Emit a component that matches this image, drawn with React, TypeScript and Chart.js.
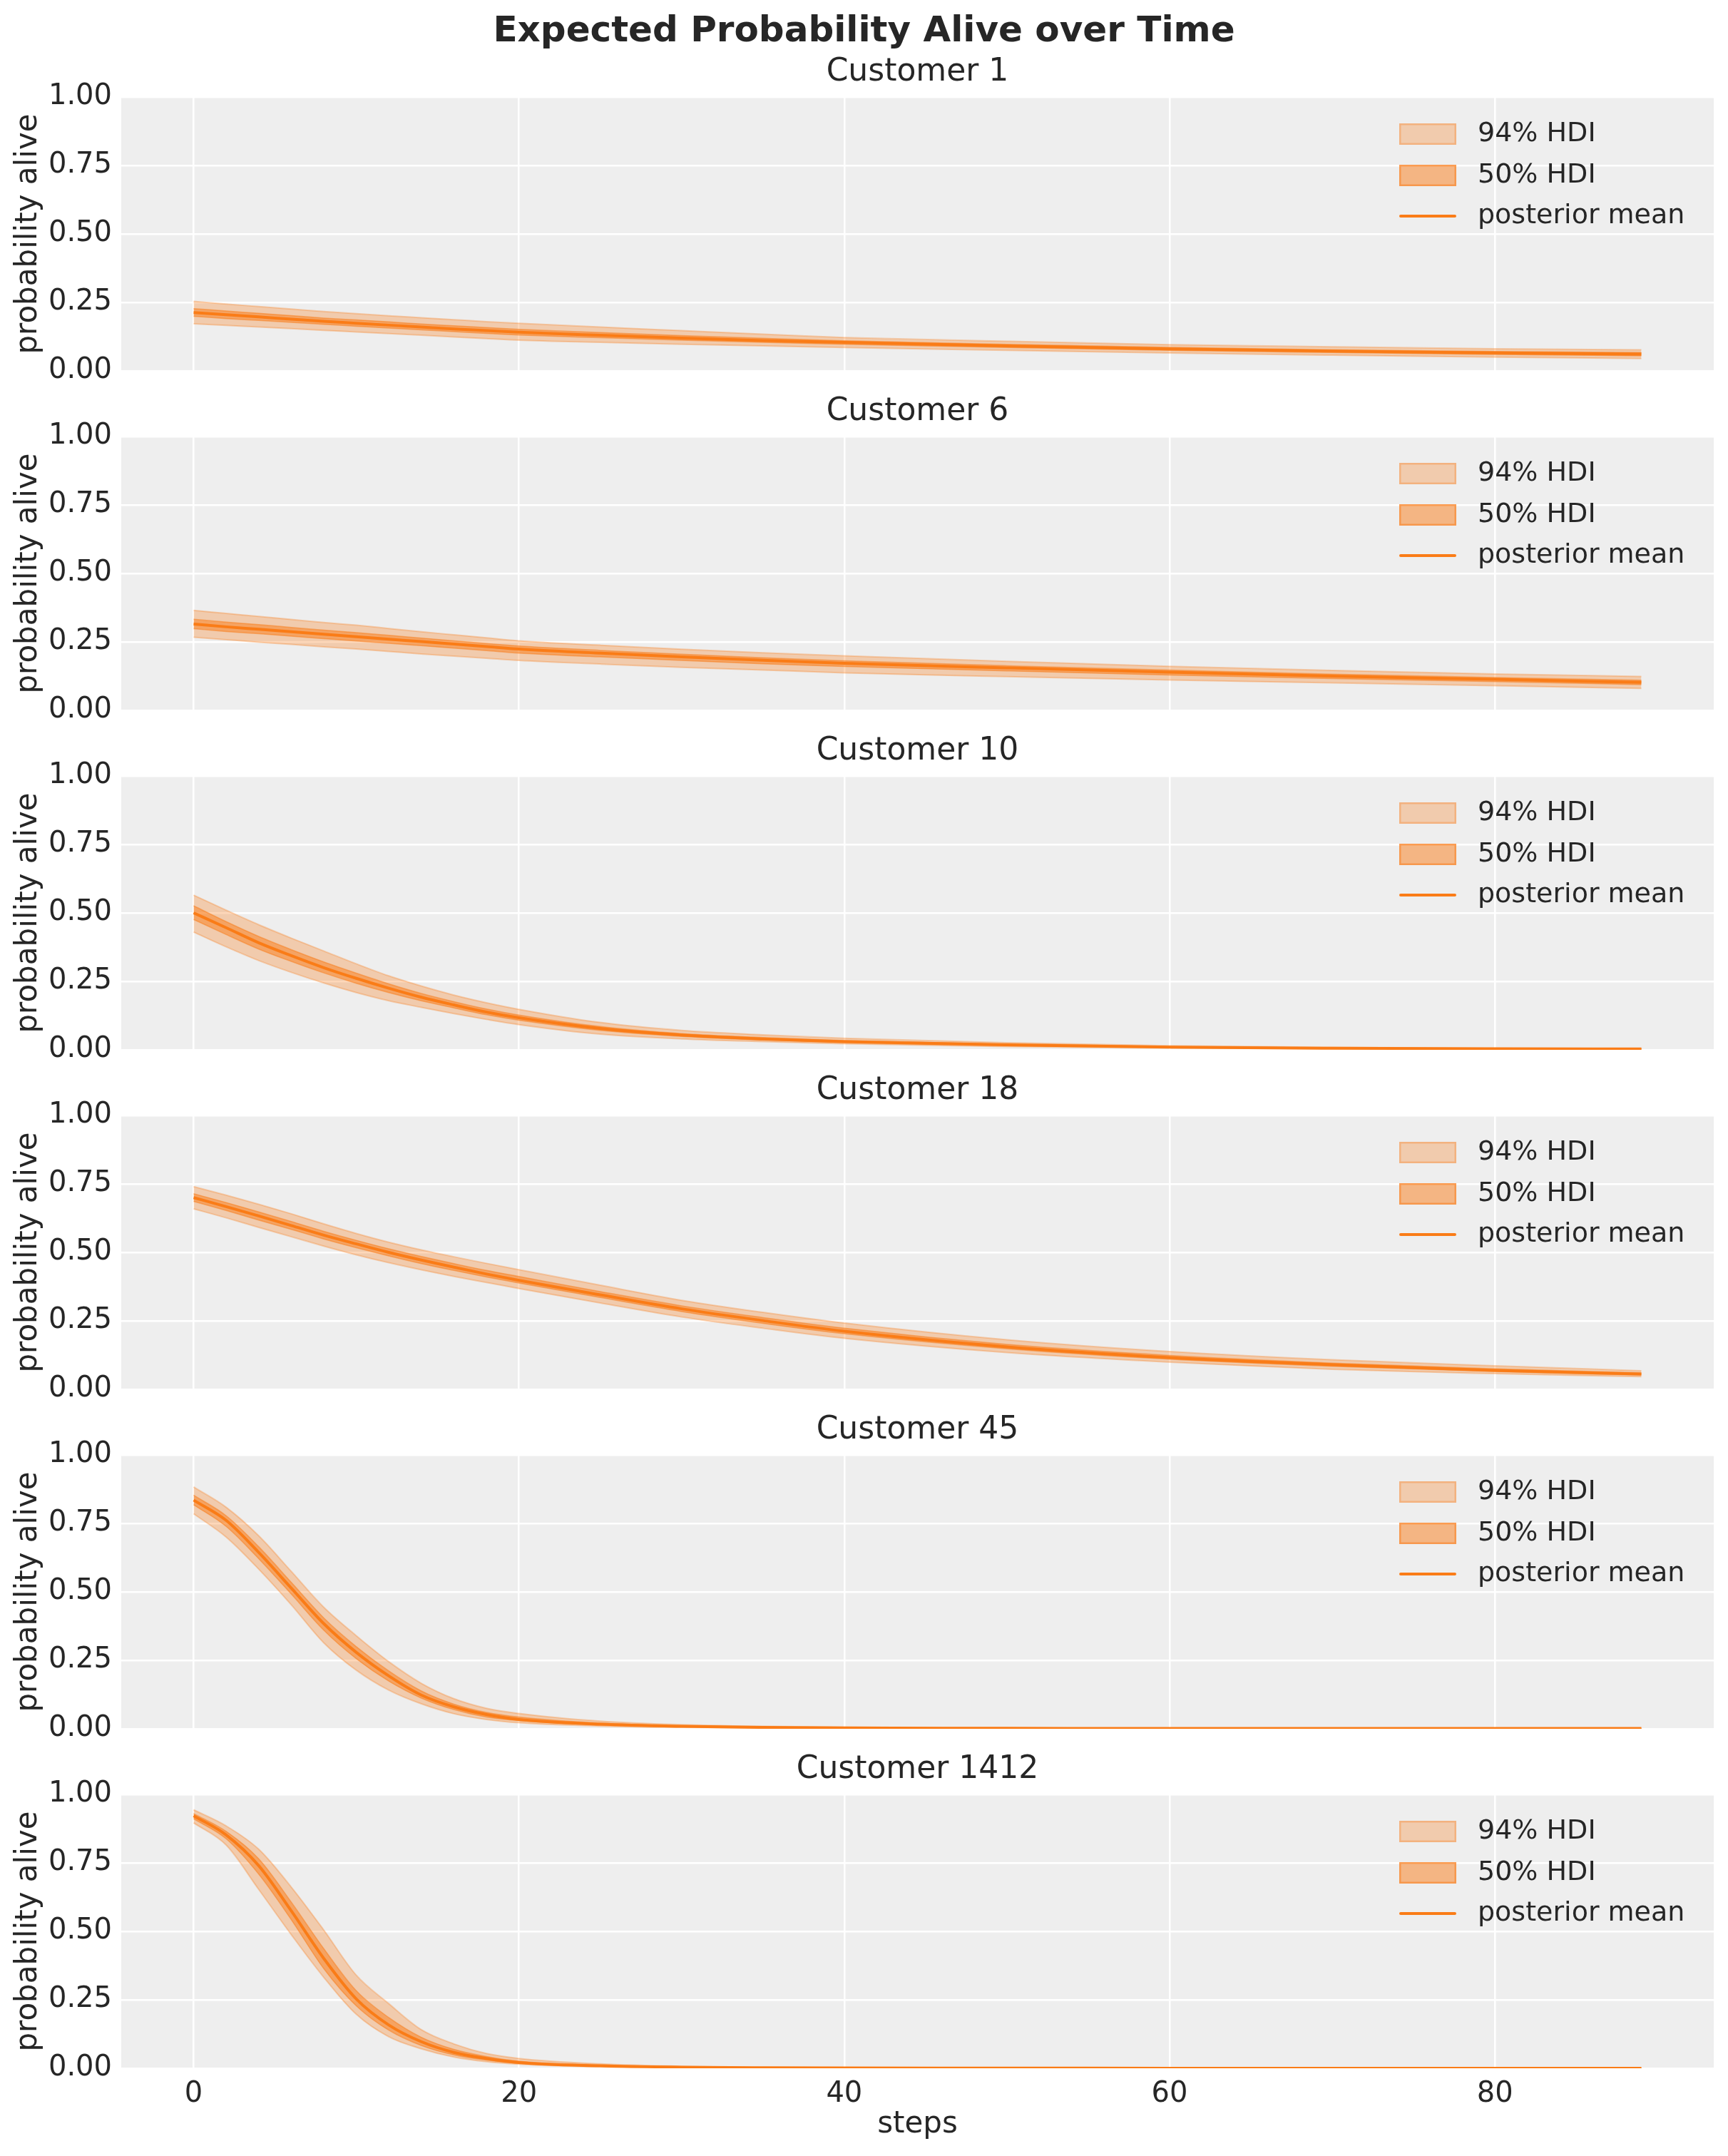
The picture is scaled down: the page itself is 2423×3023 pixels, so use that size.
import { useEffect, useRef } from "react";
import { Chart, Plugin, registerables } from "chart.js";

Chart.register(...registerables);

const steps = [0, 2, 4, 6, 8, 10, 12, 14, 16, 18, 20, 25, 30, 35, 40, 50, 60, 70, 80, 89];
const xTickValues = [0, 20, 40, 60, 80];
const yTickValues = [0, 0.25, 0.5, 0.75, 1];
const customerIds = [1, 6, 10, 18, 45, 1412];
const legendLabels = ["94% HDI", "50% HDI", "posterior mean"];

// Customer 1
const mean1 = [0.213, 0.205, 0.197, 0.189, 0.181, 0.174, 0.167, 0.16, 0.153, 0.147, 0.141, 0.13, 0.12, 0.111, 0.104, 0.091, 0.08, 0.072, 0.066, 0.061];
const hi94_1 = [0.254, 0.244, 0.235, 0.226, 0.217, 0.209, 0.201, 0.194, 0.187, 0.18, 0.174, 0.16, 0.147, 0.134, 0.122, 0.108, 0.096, 0.088, 0.081, 0.077];
const lo94_1 = [0.172, 0.166, 0.16, 0.154, 0.148, 0.142, 0.136, 0.13, 0.124, 0.118, 0.112, 0.104, 0.097, 0.091, 0.085, 0.075, 0.065, 0.057, 0.05, 0.045];
const hi50_1 = [0.227, 0.219, 0.21, 0.202, 0.193, 0.186, 0.179, 0.171, 0.165, 0.158, 0.152, 0.14, 0.129, 0.119, 0.11, 0.097, 0.086, 0.077, 0.071, 0.067];
const lo50_1 = [0.199, 0.191, 0.184, 0.177, 0.17, 0.163, 0.156, 0.15, 0.143, 0.137, 0.131, 0.121, 0.112, 0.104, 0.097, 0.085, 0.075, 0.067, 0.06, 0.055];

// Customer 6
const mean6 = [0.315, 0.305, 0.296, 0.287, 0.278, 0.269, 0.26, 0.251, 0.242, 0.233, 0.224, 0.209, 0.195, 0.183, 0.172, 0.155, 0.139, 0.125, 0.113, 0.102];
const hi94_6 = [0.365, 0.354, 0.343, 0.332, 0.321, 0.311, 0.299, 0.287, 0.276, 0.265, 0.254, 0.238, 0.223, 0.21, 0.199, 0.179, 0.161, 0.146, 0.133, 0.124];
const lo94_6 = [0.267, 0.258, 0.249, 0.241, 0.232, 0.224, 0.215, 0.206, 0.198, 0.19, 0.182, 0.169, 0.157, 0.147, 0.137, 0.123, 0.111, 0.1, 0.09, 0.08];
const hi50_6 = [0.333, 0.322, 0.313, 0.303, 0.293, 0.284, 0.274, 0.264, 0.254, 0.244, 0.235, 0.219, 0.205, 0.192, 0.181, 0.163, 0.147, 0.132, 0.12, 0.11];
const lo50_6 = [0.298, 0.288, 0.28, 0.271, 0.262, 0.253, 0.245, 0.236, 0.227, 0.218, 0.209, 0.195, 0.182, 0.17, 0.16, 0.144, 0.129, 0.116, 0.105, 0.094];

// Customer 10
const mean10 = [0.5, 0.446, 0.391, 0.344, 0.3, 0.261, 0.225, 0.192, 0.164, 0.138, 0.117, 0.078, 0.054, 0.04, 0.03, 0.018, 0.01, 0.006, 0.004, 0.003];
const hi94_10 = [0.565, 0.51, 0.457, 0.408, 0.361, 0.314, 0.27, 0.233, 0.2, 0.172, 0.148, 0.1, 0.071, 0.055, 0.042, 0.026, 0.015, 0.009, 0.006, 0.005];
const lo94_10 = [0.43, 0.376, 0.326, 0.283, 0.244, 0.209, 0.179, 0.155, 0.132, 0.111, 0.092, 0.057, 0.04, 0.03, 0.022, 0.012, 0.007, 0.004, 0.002, 0.002];
const hi50_10 = [0.526, 0.468, 0.414, 0.366, 0.321, 0.28, 0.241, 0.206, 0.176, 0.149, 0.127, 0.085, 0.059, 0.045, 0.034, 0.021, 0.012, 0.007, 0.005, 0.004];
const lo50_10 = [0.476, 0.421, 0.368, 0.323, 0.281, 0.243, 0.209, 0.179, 0.153, 0.128, 0.108, 0.071, 0.049, 0.036, 0.027, 0.016, 0.009, 0.005, 0.003, 0.0025];

// Customer 18
const mean18 = [0.7, 0.667, 0.633, 0.598, 0.563, 0.531, 0.5, 0.472, 0.446, 0.421, 0.398, 0.345, 0.294, 0.251, 0.212, 0.155, 0.116, 0.09, 0.069, 0.056];
const hi94_18 = [0.74, 0.709, 0.676, 0.641, 0.604, 0.569, 0.537, 0.509, 0.484, 0.46, 0.437, 0.38, 0.325, 0.281, 0.242, 0.181, 0.138, 0.108, 0.086, 0.068];
const lo94_18 = [0.659, 0.626, 0.591, 0.557, 0.523, 0.491, 0.462, 0.436, 0.412, 0.39, 0.368, 0.315, 0.264, 0.223, 0.186, 0.134, 0.099, 0.073, 0.057, 0.046];
const hi50_18 = [0.714, 0.682, 0.648, 0.613, 0.577, 0.544, 0.513, 0.485, 0.459, 0.434, 0.412, 0.357, 0.305, 0.262, 0.223, 0.164, 0.124, 0.096, 0.075, 0.06];
const lo50_18 = [0.686, 0.653, 0.618, 0.584, 0.549, 0.517, 0.487, 0.459, 0.434, 0.41, 0.388, 0.335, 0.284, 0.241, 0.203, 0.148, 0.11, 0.084, 0.065, 0.052];

// Customer 45
const mean45 = [0.835, 0.761, 0.644, 0.514, 0.384, 0.279, 0.193, 0.123, 0.08, 0.052, 0.034, 0.017, 0.009, 0.005, 0.003, 0.002, 0.001, 0.001, 0.001, 0.001];
const hi94_45 = [0.883, 0.809, 0.705, 0.575, 0.444, 0.34, 0.245, 0.166, 0.11, 0.075, 0.056, 0.028, 0.015, 0.009, 0.006, 0.003, 0.002, 0.002, 0.001, 0.001];
const lo94_45 = [0.785, 0.7, 0.583, 0.453, 0.314, 0.214, 0.141, 0.091, 0.055, 0.034, 0.022, 0.01, 0.005, 0.003, 0.002, 0.001, 0.0005, 0.0003, 0.0002, 0.0002];
const hi50_45 = [0.853, 0.778, 0.665, 0.535, 0.405, 0.3, 0.211, 0.138, 0.09, 0.06, 0.043, 0.021, 0.011, 0.006, 0.004, 0.002, 0.0013, 0.001, 0.001, 0.001];
const lo50_45 = [0.818, 0.739, 0.621, 0.492, 0.36, 0.256, 0.174, 0.112, 0.07, 0.043, 0.03, 0.014, 0.008, 0.004, 0.003, 0.0015, 0.0008, 0.0006, 0.0005, 0.0005];

// Customer 1412
const mean1412 = [0.922, 0.852, 0.74, 0.575, 0.401, 0.253, 0.158, 0.097, 0.058, 0.036, 0.021, 0.009, 0.004, 0.002, 0.001, 0.0005, 0.0003, 0.0002, 0.0002, 0.0001];
const hi94_1412 = [0.944, 0.885, 0.8, 0.662, 0.505, 0.34, 0.236, 0.141, 0.089, 0.054, 0.036, 0.016, 0.007, 0.004, 0.002, 0.001, 0.0006, 0.0004, 0.0003, 0.0002];
const lo94_1412 = [0.896, 0.815, 0.653, 0.488, 0.332, 0.197, 0.115, 0.071, 0.041, 0.024, 0.015, 0.005, 0.002, 0.001, 0.0005, 0.0002, 0.0001, 0, 0, 0];
const hi50_1412 = [0.93, 0.865, 0.765, 0.607, 0.437, 0.283, 0.185, 0.113, 0.069, 0.043, 0.026, 0.011, 0.005, 0.003, 0.0015, 0.0007, 0.0004, 0.0003, 0.0002, 0.0002];
const lo50_1412 = [0.911, 0.838, 0.709, 0.543, 0.364, 0.228, 0.139, 0.083, 0.049, 0.03, 0.018, 0.008, 0.003, 0.0015, 0.0008, 0.0003, 0.0002, 0.0001, 0.0001, 0.0001];

const means = [mean1, mean6, mean10, mean18, mean45, mean1412];
const hi94 = [hi94_1, hi94_6, hi94_10, hi94_18, hi94_45, hi94_1412];
const lo94 = [lo94_1, lo94_6, lo94_10, lo94_18, lo94_45, lo94_1412];
const hi50 = [hi50_1, hi50_6, hi50_10, hi50_18, hi50_45, hi50_1412];
const lo50 = [lo50_1, lo50_6, lo50_10, lo50_18, lo50_45, lo50_1412];

const ORANGE = "#fa7c17";
const BAND94 = "rgba(250, 124, 23, 0.3)";
const BAND50 = "rgba(250, 124, 23, 0.5)";
const TEXT = "#262626";
const FONT = "'DejaVu Sans', sans-serif";

const WIDTH = 2423;
const PANEL_PITCH = 476;
const PANEL_H = 498; // taller than the pitch: room for the "0.00" label overhang
const LAST_H = 577;

Chart.defaults.font.family = FONT;
Chart.defaults.color = TEXT;

const axesBackground: Plugin<"line"> = {
  id: "axesBackground",
  beforeDraw(chart) {
    const { ctx, chartArea } = chart;
    ctx.save();
    ctx.fillStyle = "#eeeeee";
    ctx.fillRect(chartArea.left, chartArea.top, chartArea.right - chartArea.left, chartArea.bottom - chartArea.top);
    ctx.restore();
  },
};

// matplotlib-style legend inside the axes, upper right, no frame
const hdiLegend: Plugin<"line"> = {
  id: "hdiLegend",
  afterDatasetsDraw(chart) {
    const { ctx, chartArea } = chart;
    const rows = [52, 110, 167];
    const px = chartArea.right - 441;
    ctx.save();
    [BAND94, BAND50].forEach((c, i) => {
      const y = chartArea.top + rows[i];
      ctx.fillStyle = c;
      ctx.fillRect(px, y - 15, 80, 30);
      ctx.strokeStyle = c;
      ctx.lineWidth = 2.5;
      ctx.strokeRect(px + 1.25, y - 13.75, 77.5, 27.5);
    });
    const ly = chartArea.top + rows[2];
    ctx.strokeStyle = ORANGE;
    ctx.lineWidth = 4;
    ctx.lineCap = "round";
    ctx.beginPath();
    ctx.moveTo(px + 2, ly);
    ctx.lineTo(px + 78, ly);
    ctx.stroke();
    ctx.fillStyle = TEXT;
    ctx.font = `normal 38px ${FONT}`;
    ctx.textBaseline = "middle";
    ctx.textAlign = "left";
    legendLabels.forEach((t, i) => ctx.fillText(t, chartArea.right - 331, chartArea.top + rows[i]));
    ctx.restore();
  },
};

function CustomerPanel({ index }: { index: number }) {
  const canvasRef = useRef<HTMLCanvasElement>(null);
  const isLast = index === customerIds.length - 1;
  const height = isLast ? LAST_H : PANEL_H;

  useEffect(() => {
    if (!canvasRef.current) return;
    const pts = (ys: number[]) => steps.map((x, i) => ({ x, y: ys[i] }));

    const chart = new Chart(canvasRef.current, {
      type: "line",
      data: {
        datasets: [
          { label: "posterior mean", data: pts(means[index]), borderColor: ORANGE, borderWidth: 4, fill: false },
          { label: "50% low", data: pts(lo50[index]), borderColor: BAND50, borderWidth: 1.5, fill: false },
          { label: "50% HDI", data: pts(hi50[index]), borderColor: BAND50, borderWidth: 1.5, backgroundColor: BAND50, fill: 1 },
          { label: "94% low", data: pts(lo94[index]), borderColor: BAND94, borderWidth: 2, fill: false },
          { label: "94% HDI", data: pts(hi94[index]), borderColor: BAND94, borderWidth: 2, backgroundColor: BAND94, fill: 3 },
        ],
      },
      options: {
        animation: false,
        responsive: false,
        devicePixelRatio: 1,
        layout: { padding: { left: 0, right: 20, top: 0, bottom: 0 } },
        elements: {
          point: { radius: 0 },
          line: { cubicInterpolationMode: "monotone" },
        },
        scales: {
          x: {
            type: "linear",
            min: -4.45,
            max: 93.45,
            afterBuildTicks: (s) => {
              s.ticks = xTickValues.map((v) => ({ value: v }));
            },
            afterFit: (s) => {
              s.height = isLast ? 123 : 44;
            },
            ticks: { display: isLast, padding: 13, font: { size: 40 }, color: TEXT },
            grid: { color: "#ffffff", lineWidth: 2.5, drawTicks: false },
            border: { display: false },
            title: {
              display: isLast,
              text: "steps",
              color: TEXT,
              font: { size: 42 },
              padding: { top: 0, bottom: 19 },
            },
          },
          y: {
            min: 0,
            max: 1,
            afterBuildTicks: (s) => {
              s.ticks = yTickValues.map((v) => ({ value: v }));
            },
            afterFit: (s) => {
              s.width = 170;
            },
            ticks: {
              padding: 13,
              font: { size: 40 },
              color: TEXT,
              callback: (v) => Number(v).toFixed(2),
            },
            grid: { color: "#ffffff", lineWidth: 2.5, drawTicks: false },
            border: { display: false },
            title: {
              display: true,
              text: "probability alive",
              color: TEXT,
              font: { size: 42 },
              padding: { top: 15, bottom: 0 },
            },
          },
        },
        plugins: {
          legend: { display: false },
          tooltip: { enabled: false },
          title: {
            display: true,
            text: `Customer ${customerIds[index]}`,
            fullSize: false,
            color: TEXT,
            font: { size: 44, weight: "normal" },
            padding: { top: 9.6, bottom: 7.6 },
          },
        },
      },
      plugins: [axesBackground, hdiLegend],
    });

    return () => chart.destroy();
  }, [index]);

  return (
    <canvas
      ref={canvasRef}
      width={WIDTH}
      height={height}
      style={{ position: "absolute", left: 0, top: 66 + PANEL_PITCH * index, width: WIDTH, height }}
    />
  );
}

export default function App() {
  return (
    <div
      style={{
        position: "absolute",
        left: 0,
        top: 0,
        width: WIDTH,
        height: 3023,
        background: "#ffffff",
        overflow: "hidden",
      }}
    >
      <div
        style={{
          position: "absolute",
          top: 16,
          left: 0,
          width: WIDTH,
          textAlign: "center",
          font: `bold 50px ${FONT}`,
          lineHeight: "50px",
          color: TEXT,
        }}
      >
        Expected Probability Alive over Time
      </div>
      {customerIds.map((id, i) => (
        <CustomerPanel key={id} index={i} />
      ))}
    </div>
  );
}
